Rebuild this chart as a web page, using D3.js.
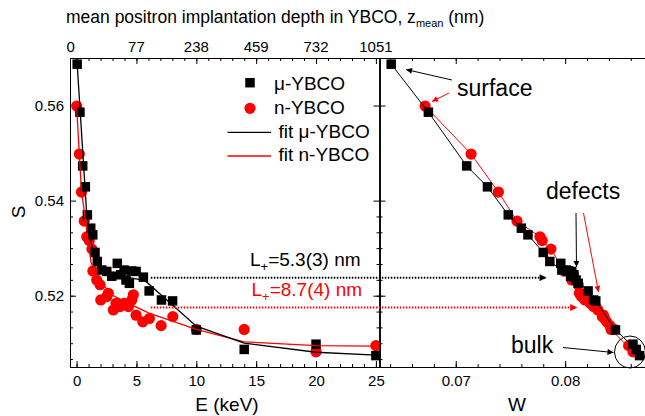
<!DOCTYPE html>
<html>
<head>
<meta charset="utf-8">
<script src="https://cdn.jsdelivr.net/npm/d3@7"></script>
<style>
  body { margin: 0; background: #fff; }
  svg { font-family: "Liberation Sans", Arial, sans-serif; }
  .axis path, .axis line { stroke: #000; stroke-width: 1; }
  .axis text { font-size: 15px; fill: #000; font-family: "Liberation Sans", Arial, sans-serif; }
</style>
</head>
<body>
<div id="graph"></div>
<script>
// mu-YBCO: implantation energy (keV), S and W parameters
var muE = [0.05,0.28,0.51,0.73,0.9,1.18,1.35,1.54,1.73,2.1,2.52,2.94,3.4,3.69,3.97,4.13,4.41,4.61,4.97,5.58,6.06,7.09,8.02,10,14,20,25];
var muS = [0.5687,0.5586,0.5473,0.5429,0.5370,0.5342,0.5328,0.5291,0.5272,0.5254,0.5251,0.5241,0.5268,0.5244,0.5254,0.5233,0.5226,0.5252,0.5251,0.5239,0.5210,0.5191,0.5189,0.5128,0.5087,0.5098,0.5074];
var muW = [0.0641,0.0675,0.0710,0.0729,0.0748,0.0760,0.0766,0.0780,0.0786,0.0797,0.0802,0.0805,0.0796,0.0808,0.0801,0.0810,0.0812,0.0803,0.0806,0.0808,0.0821,0.0826,0.0828,0.0846,0.0865,0.0862,0.0868];

// n-YBCO
var nE = [0.01,0.23,0.41,0.64,0.85,1.06,1.28,1.36,1.68,1.96,2.02,2.52,2.65,3.07,3.3,3.63,3.97,4.33,4.61,4.74,4.97,5.53,6.08,7.06,8.04,10,14,20,25];
var nS = [0.5599,0.5498,0.5418,0.5357,0.5324,0.5316,0.5298,0.5252,0.5233,0.5223,0.5191,0.5198,0.5205,0.5170,0.5184,0.5177,0.5184,0.5177,0.5191,0.5202,0.5159,0.5145,0.5152,0.5137,0.5156,0.5129,0.5129,0.5082,0.5095];
var nW = [0.0672,0.0714,0.0739,0.0756,0.0777,0.0779,0.0787,0.0799,0.0806,0.0812,0.0818,0.0815,0.0813,0.0830,0.0823,0.0826,0.0824,0.0828,0.0820,0.0816,0.0835,0.0838,0.0836,0.0841,0.0834,0.0845,0.0842,0.0862,0.0858];

// fit curves S(E)
var muFitE = [0.05,0.85,1.4,1.96,2.5,5.7,10,14,20,25];
var muFitS = [0.5687,0.5370,0.5286,0.5254,0.5246,0.5232,0.5136,0.5100,0.5081,0.5075];
var nFitE = [0,0.4,0.8,1.0,1.2,1.7,3,5,6,10,14,20,25];
var nFitS = [0.5599,0.5422,0.5349,0.5307,0.5271,0.5237,0.5201,0.5176,0.5164,0.5129,0.5103,0.5095,0.5094];

// axis ticks
var bottomTicks = [0,5,10,15,20,25];
var topTickE = [-0.5,5,10,15,20,25];
var topTickLabels = ["0","77","238","459","732","1051"];
var sTicks = [0.52,0.54,0.56];
var wTicks = [0.07,0.08];

// diffusion length levels (S level, start E, end W)
var lLevels = [
  {txt: "=5.3(3) nm", color: "#000", S: 0.5238, E0: 6.2, W1: 0.0783},
  {txt: "=8.7(4) nm", color: "#ff0000", S: 0.5175, E0: 6.2, W1: 0.0811}
];

var svgWidth = 645, svgHeight = 416;
var frame = {top: 58, bottom: 367, left: 70, mid: 379.5, right: 645};

var xScale = d3.scaleLinear().domain([-0.55, 25.3]).range([frame.left, frame.mid]);
var yScale = d3.scaleLinear().domain([0.505, 0.570]).range([frame.bottom, frame.top]);
var wScale = d3.scaleLinear().domain([0.06303, 0.0873]).range([frame.mid, frame.right]);

var sq = 9.5, rad = 5.6;

var svg = d3.select("#graph").append("svg")
  .attr("width", svgWidth).attr("height", svgHeight);

var defs = svg.append("defs");
function arrowMarker(id, color, w, h) {
  defs.append("marker").attr("id", id)
    .attr("viewBox", "0 0 10 10").attr("refX", 10).attr("refY", 5)
    .attr("markerWidth", w).attr("markerHeight", h)
    .attr("markerUnits", "userSpaceOnUse").attr("orient", "auto")
    .append("path").attr("d", "M0,0L10,5L0,10z").attr("fill", color);
}
arrowMarker("ablack", "#000", 9, 6);
arrowMarker("ared", "#ff0000", 9, 6);
arrowMarker("bigblack", "#000", 11, 7);
arrowMarker("bigred", "#ff0000", 11, 7);

defs.append("clipPath").attr("id", "clipL").append("rect")
  .attr("x", frame.left).attr("y", frame.top).attr("width", frame.mid - frame.left).attr("height", frame.bottom - frame.top);
defs.append("clipPath").attr("id", "clipR").append("rect")
  .attr("x", frame.mid).attr("y", frame.top).attr("width", frame.right - frame.mid).attr("height", frame.bottom - frame.top);

// ---------- axes ----------
var minorE = d3.range(0, 26, 1);
var minorS = d3.range(0, 12).map(function(i) { return 0.50 + i * 0.02 / 6; }).filter(function(v) { return v > 0.505 && v < 0.570; });
var minorW = d3.range(32, 44).map(function(i) { return i * 0.002; });

function axis(gen, scale, ticks, size, fmt, pad) {
  return gen(scale).tickValues(ticks).tickSize(-size).tickSizeOuter(0).tickPadding(pad || 6).tickFormat(fmt);
}
var none = function() { return ""; };

// left panel bottom
svg.append("g").attr("class", "axis").attr("transform", "translate(0," + frame.bottom + ")")
  .call(axis(d3.axisBottom, xScale, minorE, 3, none));
svg.append("g").attr("class", "axis").attr("transform", "translate(0," + frame.bottom + ")")
  .call(axis(d3.axisBottom, xScale, bottomTicks, 6, d3.format("d"), 8));
// left panel top
svg.append("g").attr("class", "axis").attr("transform", "translate(0," + frame.top + ")")
  .call(axis(d3.axisTop, xScale, minorE, 3, none));
svg.append("g").attr("class", "axis").attr("transform", "translate(0," + frame.top + ")")
  .call(axis(d3.axisTop, xScale, bottomTicks, 6, none));
svg.append("g").attr("class", "axis")
  .selectAll("text").data(topTickE).enter().append("text")
  .attr("x", function(d) { return xScale(d); }).attr("y", frame.top - 6.5)
  .attr("text-anchor", "middle")
  .text(function(d, i) { return topTickLabels[i]; });
// left y
svg.append("g").attr("class", "axis").attr("transform", "translate(" + frame.left + ",0)")
  .call(axis(d3.axisLeft, yScale, minorS, 3, none));
svg.append("g").attr("class", "axis").attr("transform", "translate(" + frame.left + ",0)")
  .call(axis(d3.axisLeft, yScale, sTicks, 6, d3.format(".2f"), 6));
// middle divider, ticks on both sides
[d3.axisRight, d3.axisLeft].forEach(function(gen) {
  svg.append("g").attr("class", "axis").attr("transform", "translate(" + frame.mid + ",0)")
    .call(axis(gen, yScale, minorS, 3, none));
  svg.append("g").attr("class", "axis").attr("transform", "translate(" + frame.mid + ",0)")
    .call(axis(gen, yScale, sTicks, 6, none));
});
// right panel bottom / top
svg.append("g").attr("class", "axis").attr("transform", "translate(0," + frame.bottom + ")")
  .call(axis(d3.axisBottom, wScale, minorW, 3, none));
svg.append("g").attr("class", "axis").attr("transform", "translate(0," + frame.bottom + ")")
  .call(axis(d3.axisBottom, wScale, wTicks, 6, d3.format(".2f"), 8));
svg.append("g").attr("class", "axis").attr("transform", "translate(0," + frame.top + ")")
  .call(axis(d3.axisTop, wScale, minorW, 3, none));
svg.append("g").attr("class", "axis").attr("transform", "translate(0," + frame.top + ")")
  .call(axis(d3.axisTop, wScale, wTicks, 6, none));
svg.selectAll(".axis .domain").attr("stroke-width", 1.2);

// axis titles
svg.append("text").attr("x", 227).attr("y", 411).attr("text-anchor", "middle")
  .style("font-size", "19px").text("E (keV)");
svg.append("text").attr("x", 517).attr("y", 411).attr("text-anchor", "middle")
  .style("font-size", "19px").text("W");
svg.append("text").attr("transform", "translate(25,212) rotate(-90)").attr("text-anchor", "middle")
  .style("font-size", "19px").text("S");
var title = svg.append("text").attr("x", 66).attr("y", 23).style("font-size", "17.5px");
title.append("tspan").text("mean positron implantation depth in YBCO, z");
title.append("tspan").attr("dy", 4).style("font-size", "11px").text("mean");
title.append("tspan").attr("dy", -4).text(" (nm)");

// ---------- left panel: S vs E ----------
var gL = svg.append("g").attr("clip-path", "url(#clipL)");
var muData = muE.map(function(e, i) { return {E: e, S: muS[i], W: muW[i]}; });
var nData = nE.map(function(e, i) { return {E: e, S: nS[i], W: nW[i]}; });

gL.selectAll(".nc").data(nData).enter().append("circle")
  .attr("cx", function(d) { return xScale(d.E); }).attr("cy", function(d) { return yScale(d.S); })
  .attr("r", rad).attr("fill", "#ff0000");
gL.selectAll(".ms").data(muData).enter().append("rect")
  .attr("x", function(d) { return xScale(d.E) - sq / 2; }).attr("y", function(d) { return yScale(d.S) - sq / 2; })
  .attr("width", sq).attr("height", sq).attr("fill", "#000");

var fitLine = d3.line().x(function(d) { return xScale(d[0]); }).y(function(d) { return yScale(d[1]); });
gL.append("path").attr("d", fitLine(nFitE.map(function(e, i) { return [e, nFitS[i]]; })))
  .attr("fill", "none").attr("stroke", "#ff0000").attr("stroke-width", 1.3);
gL.append("path").attr("d", fitLine(muFitE.map(function(e, i) { return [e, muFitS[i]]; })))
  .attr("fill", "none").attr("stroke", "#000").attr("stroke-width", 1.3);

// legend
var leg = svg.append("g").style("font-size", "19px");
leg.append("rect").attr("x", 250 - sq / 2).attr("y", 82.7 - sq / 2).attr("width", sq).attr("height", sq);
leg.append("text").attr("x", 274).attr("y", 90).text("\u03bc-YBCO");
leg.append("circle").attr("cx", 250).attr("cy", 108.3).attr("r", rad).attr("fill", "#ff0000");
leg.append("text").attr("x", 274).attr("y", 114).text("n-YBCO");
leg.append("line").attr("x1", 227.5).attr("x2", 271).attr("y1", 132.3).attr("y2", 132.3).attr("stroke", "#000").attr("stroke-width", 1.3);
leg.append("text").attr("x", 278.5).attr("y", 137.5).text("fit \u03bc-YBCO");
leg.append("line").attr("x1", 227.5).attr("x2", 271).attr("y1", 156).attr("y2", 156).attr("stroke", "#ff0000").attr("stroke-width", 1.3);
leg.append("text").attr("x", 278.5).attr("y", 161).text("fit n-YBCO");

// ---------- right panel: S vs W ----------
var gR = svg.append("g").attr("clip-path", "url(#clipR)");
var wLine = d3.line().x(function(d) { return wScale(d.W); }).y(function(d) { return yScale(d.S); });
gR.append("path").attr("d", wLine(nData)).attr("fill", "none").attr("stroke", "#ff0000").attr("stroke-width", 1);
gR.selectAll(".nc").data(nData).enter().append("circle")
  .attr("cx", function(d) { return wScale(d.W); }).attr("cy", function(d) { return yScale(d.S); })
  .attr("r", rad).attr("fill", "#ff0000");
gR.append("path").attr("d", wLine(muData)).attr("fill", "none").attr("stroke", "#000").attr("stroke-width", 1);
gR.selectAll(".ms").data(muData).enter().append("rect")
  .attr("x", function(d) { return wScale(d.W) - sq / 2; }).attr("y", function(d) { return yScale(d.S) - sq / 2; })
  .attr("width", sq).attr("height", sq).attr("fill", "#000");

// ---------- annotations ----------
lLevels.forEach(function(l, i) {
  svg.append("line")
    .attr("x1", xScale(l.E0)).attr("x2", wScale(l.W1))
    .attr("y1", yScale(l.S)).attr("y2", yScale(l.S))
    .attr("stroke", l.color).attr("stroke-width", 2).attr("stroke-dasharray", "1.5,1.5")
    .attr("marker-end", i === 0 ? "url(#bigblack)" : "url(#bigred)");
  var t = svg.append("text").attr("x", 250 + i * 1.5).attr("y", yScale(l.S) - 11.5)
    .style("font-size", "19px").attr("fill", l.color);
  t.append("tspan").text("L");
  t.append("tspan").attr("dy", 5).style("font-size", "13px").text("+");
  t.append("tspan").attr("dy", -5).text(l.txt);
});

svg.append("text").attr("x", 457).attr("y", 96).style("font-size", "23px").text("surface");
svg.append("line").attr("x1", 452).attr("y1", 80).attr("x2", 406).attr("y2", 69.5)
  .attr("stroke", "#000").attr("stroke-width", 1).attr("marker-end", "url(#ablack)");
svg.append("line").attr("x1", 449).attr("y1", 93).attr("x2", 432).attr("y2", 101.5)
  .attr("stroke", "#ff0000").attr("stroke-width", 1).attr("marker-end", "url(#ared)");

svg.append("text").attr("x", 546).attr("y", 199).style("font-size", "23px").text("defects");
svg.append("line").attr("x1", 576).attr("y1", 213).attr("x2", 576.5).attr("y2", 267)
  .attr("stroke", "#000").attr("stroke-width", 1).attr("marker-end", "url(#ablack)");
svg.append("line").attr("x1", 583.5).attr("y1", 213).attr("x2", 598.5).attr("y2", 292)
  .attr("stroke", "#ff0000").attr("stroke-width", 1).attr("marker-end", "url(#ared)");

svg.append("text").attr("x", 511).attr("y", 353).style("font-size", "23px").text("bulk");
svg.append("line").attr("x1", 563).attr("y1", 347.5).attr("x2", 613.5).attr("y2", 352.5)
  .attr("stroke", "#000").attr("stroke-width", 1).attr("marker-end", "url(#ablack)");
svg.append("ellipse").attr("cx", 630).attr("cy", 352).attr("rx", 15.5).attr("ry", 16)
  .attr("fill", "none").attr("stroke", "#000").attr("stroke-width", 1);
</script>
</body>
</html>
